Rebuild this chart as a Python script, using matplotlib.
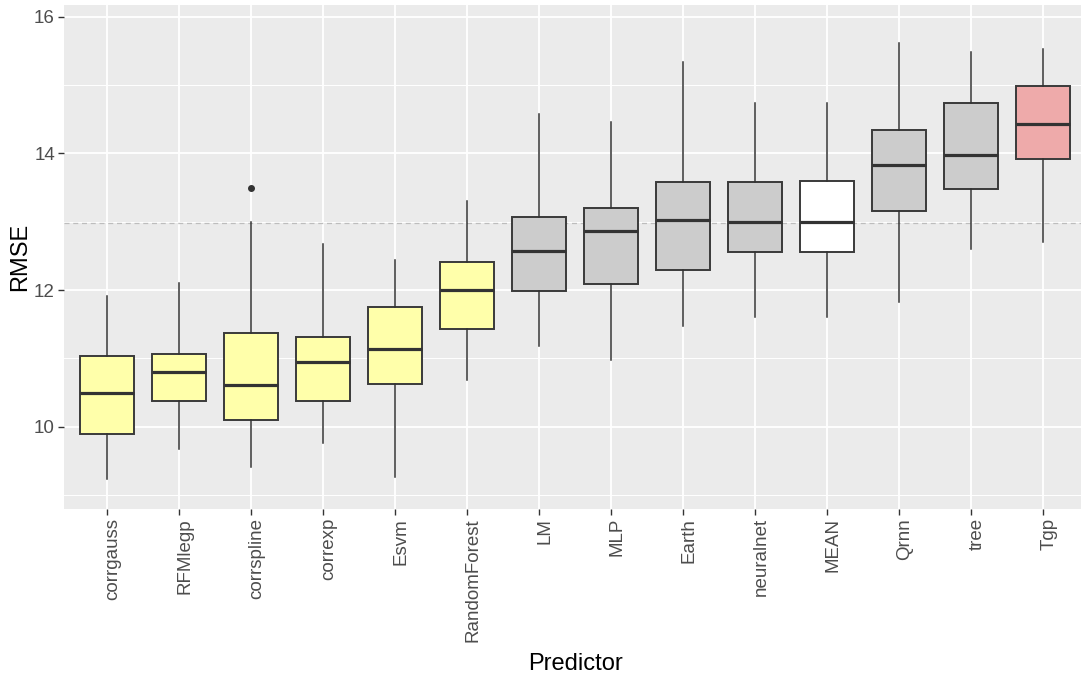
import matplotlib
matplotlib.use("Agg")
import matplotlib.pyplot as plt
import matplotlib.transforms as mtransforms

predictors = ["corrgauss", "RFMlegp", "corrspline", "correxp", "Esvm", "RandomForest",
              "LM", "MLP", "Earth", "neuralnet", "MEAN", "Qrnn", "tree", "Tgp"]
whislo = [9.23, 9.67, 9.41, 9.76, 9.27, 10.68, 11.18, 10.98, 11.48, 11.60, 11.60, 11.82, 12.60, 12.71]
q1 = [9.90, 10.37, 10.10, 10.37, 10.62, 11.43, 11.99, 12.09, 12.29, 12.55, 12.55, 13.16, 13.48, 13.92]
med = [10.50, 10.80, 10.61, 10.94, 11.14, 12.00, 12.57, 12.87, 13.02, 12.99, 12.99, 13.83, 13.97, 14.43]
q3 = [11.04, 11.07, 11.37, 11.32, 11.75, 12.41, 13.07, 13.20, 13.58, 13.58, 13.60, 14.34, 14.74, 14.98]
whishi = [11.92, 12.10, 13.00, 12.67, 12.44, 13.30, 14.57, 14.46, 15.33, 14.74, 14.74, 15.61, 15.49, 15.53]
outliers = [[], [], [13.49], [], [], [], [], [], [], [], [], [], [], []]
groups = ["new"] * 6 + ["old"] * 4 + ["mean"] + ["old"] * 2 + ["best"]
mean_rmse = 12.98

fill = {"new": "#FFFFAA", "old": "#CCCCCC", "mean": "#FFFFFF", "best": "#EEAAAA"}

plt.rcParams["font.family"] = ["Liberation Sans", "DejaVu Sans"]

W, H = 1081, 677
fig = plt.figure(figsize=(W / 100, H / 100), dpi=100)
ax = fig.add_axes([64 / W, 1 - 509 / H, (1086 - 64) / W, 504 / H])
ax.set_facecolor("#EBEBEB")
for s in ax.spines.values():
    s.set_visible(False)

ax.set_yticks([10, 12, 14, 16])
ax.set_yticks([9, 11, 13, 15], minor=True)
ax.grid(True, which="major", color="white", linewidth=1.3)
ax.grid(True, which="minor", axis="y", color="white", linewidth=0.7)
ax.set_axisbelow(True)

ax.axhline(mean_rmse, color="#BDBDBD", linestyle=(0, (4, 3)), linewidth=0.9, zorder=1)

stats = []
for i, name in enumerate(predictors):
    stats.append(dict(label=name, whislo=whislo[i], q1=q1[i], med=med[i],
                      q3=q3[i], whishi=whishi[i], fliers=outliers[i]))

pos = list(range(1, len(predictors) + 1))
bp = ax.bxp(stats, positions=pos, widths=0.75, patch_artist=True, showcaps=False,
            boxprops=dict(edgecolor="#3A3A3A", linewidth=1.4),
            medianprops=dict(color="#333333", linewidth=2.3, solid_capstyle="butt"),
            whiskerprops=dict(color="#333333", linewidth=1.1),
            flierprops=dict(marker="o", markersize=4, markerfacecolor="#333333",
                            markeredgecolor="#333333"),
            zorder=3)
for patch, g in zip(bp["boxes"], groups):
    patch.set_facecolor(fill[g])

ax.set_xlim(0.4, 14.6)
ax.set_ylim(8.796, 16.171)
ax.set_xticks(pos)
ax.set_xticklabels(predictors, rotation=90, ha="center", va="top")
ax.tick_params(axis="both", which="major", color="#333333", length=4, width=1,
               labelcolor="#4D4D4D", labelsize=13.5, pad=2.5)
ax.tick_params(axis="y", which="minor", length=0)

# labels sit a little right of their ticks in the reference
shift = mtransforms.ScaledTranslation(6 / 100, 0, fig.dpi_scale_trans)
for lab in ax.get_xticklabels():
    lab.set_transform(lab.get_transform() + shift)

fig.text(20 / W, 1 - 257 / H, "RMSE", rotation=90, ha="center", va="center",
         fontsize=17, color="black")
fig.text(575 / W, 1 - 664 / H, "Predictor", ha="center", va="center",
         fontsize=17, color="black")

fig.savefig("out.png", dpi=100)
